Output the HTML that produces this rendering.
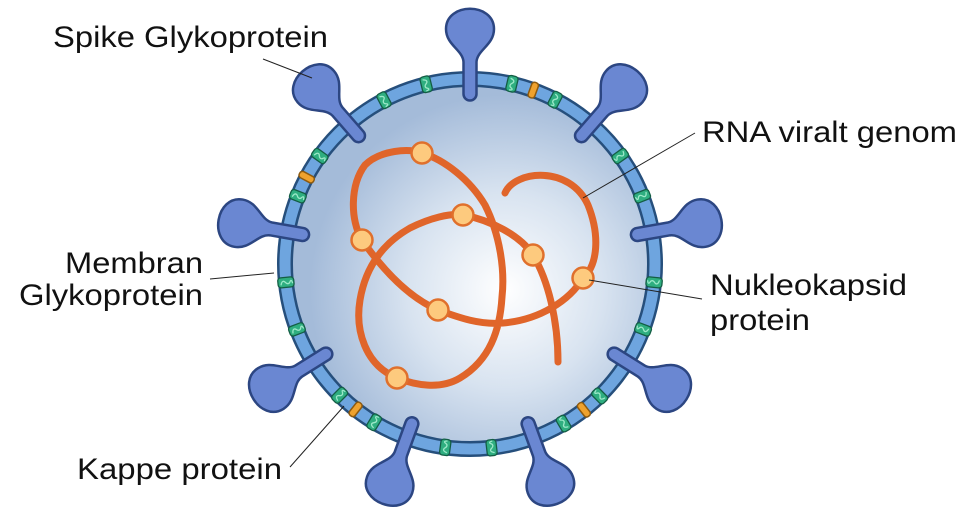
<!DOCTYPE html>
<html><head><meta charset="utf-8"><style>
html,body{margin:0;padding:0;background:#fff;}
svg{display:block;}
text{font-family:"Liberation Sans",Arial,sans-serif;fill:#111;font-size:30px;}
</style></head><body>
<svg width="967" height="516" viewBox="0 0 967 516" xmlns="http://www.w3.org/2000/svg">
<defs>
<radialGradient id="g" cx="35" cy="26" r="195" gradientUnits="userSpaceOnUse">
<stop offset="0" stop-color="#ffffff"/><stop offset="0.5" stop-color="#d8e3f0"/><stop offset="1" stop-color="#a4bbd9"/>
</radialGradient>
<g id="sp">
<path d="M-6.5,-170 L-6.5,-202 C-7,-214 -24,-219 -24,-235 C-24,-262 24,-262 24,-235 C24,-219 7,-214 6.5,-202 L6.5,-170 A6.5,6.5 0 0 1 -6.5,-170 Z" fill="#6a87d2" stroke="#2c4682" stroke-width="2.5" stroke-linejoin="round"/>
</g>
<g id="gr">
<rect x="-5" y="-193" width="10" height="16" rx="3" fill="#2fae80" stroke="#145e45" stroke-width="1.3"/>
<path d="M-2,-190 C2,-189 2,-187 0,-185.5 C-2,-184 -2,-182 0,-181 C2,-180 2,-179 -1,-178.5" fill="none" stroke="#9ce8c8" stroke-width="1.3" stroke-linecap="round"/>
</g>
<g id="or">
<rect x="-3.5" y="-193" width="7" height="16" rx="3" fill="#efa22e" stroke="#8d5a10" stroke-width="1.5"/>
</g>
</defs>
<g transform="translate(470,264)">
<circle r="185" fill="url(#g)"/>
<circle r="185" fill="none" stroke="#264f7c" stroke-width="16"/>
<circle r="185" fill="none" stroke="#6ea5df" stroke-width="11"/>
<use href="#gr" transform="rotate(-13.7)"/>
<use href="#gr" transform="rotate(-27.7)"/>
<use href="#gr" transform="rotate(13.1)"/>
<use href="#gr" transform="rotate(27.4)"/>
<use href="#or" transform="rotate(20)"/>
<use href="#gr" transform="rotate(-54.3)"/>
<use href="#or" transform="rotate(-62)"/>
<use href="#gr" transform="rotate(-68.5)"/>
<use href="#gr" transform="rotate(54.3)"/>
<use href="#gr" transform="rotate(68.5)"/>
<use href="#gr" transform="rotate(-95.7)"/>
<use href="#gr" transform="rotate(-110.7)"/>
<use href="#gr" transform="rotate(95.7)"/>
<use href="#gr" transform="rotate(110.7)"/>
<use href="#gr" transform="rotate(-135.2)"/>
<use href="#or" transform="rotate(-141.8)"/>
<use href="#gr" transform="rotate(-148.8)"/>
<use href="#gr" transform="rotate(-172.3)"/>
<use href="#gr" transform="rotate(173.3)"/>
<use href="#gr" transform="rotate(149.6)"/>
<use href="#or" transform="rotate(142)"/>
<use href="#gr" transform="rotate(135.5)"/>
<use href="#sp" transform="rotate(0)"/>
<use href="#sp" transform="rotate(41)"/>
<use href="#sp" transform="rotate(80)"/>
<use href="#sp" transform="rotate(122)"/>
<use href="#sp" transform="rotate(160)"/>
<use href="#sp" transform="rotate(200)"/>
<use href="#sp" transform="rotate(238)"/>
<use href="#sp" transform="rotate(280)"/>
<use href="#sp" transform="rotate(319)"/>
</g>
<path d="M505,193 C515,170 570,165 588,205 C600,235 598,265 583,278 C570,300 540,320 503,323 C480,325 460,318 438,310 C415,300 390,280 362,240 C350,220 350,185 365,165 C380,150 410,148 422,153 C445,160 470,180 485,205 C500,235 505,270 502,297 C500,330 490,360 460,378 C440,390 415,385 397,378 C365,365 355,330 360,300 C365,270 380,245 410,228 C430,218 450,213 463,215 C490,220 520,235 533,255 C548,280 558,320 558,362" fill="none" stroke="#e0652a" stroke-width="7" stroke-linecap="round" stroke-linejoin="round"/>
<g fill="#fdca7e" stroke="#e0702c" stroke-width="2.5">
<circle cx="422" cy="153" r="10.5"/><circle cx="463" cy="215" r="10.5"/><circle cx="362" cy="240" r="10.5"/><circle cx="533" cy="255" r="10.5"/><circle cx="583" cy="278" r="10.5"/><circle cx="438" cy="310" r="10.5"/><circle cx="397" cy="378" r="10.5"/>
</g>
<g stroke="#222" stroke-width="1">
<line x1="263" y1="59" x2="312" y2="78"/>
<line x1="210" y1="279" x2="274" y2="273"/>
<line x1="290" y1="467" x2="344" y2="406"/>
<line x1="695" y1="133" x2="583" y2="198"/>
<line x1="589" y1="280" x2="702" y2="299"/>
</g>
<text x="53" y="47" textLength="275" lengthAdjust="spacingAndGlyphs">Spike Glykoprotein</text>
<text x="65" y="273" textLength="138" lengthAdjust="spacingAndGlyphs">Membran</text>
<text x="19" y="305" textLength="184" lengthAdjust="spacingAndGlyphs">Glykoprotein</text>
<text x="77" y="479" textLength="205" lengthAdjust="spacingAndGlyphs">Kappe protein</text>
<text x="702" y="142" textLength="255" lengthAdjust="spacingAndGlyphs">RNA viralt genom</text>
<text x="710" y="295" textLength="197" lengthAdjust="spacingAndGlyphs">Nukleokapsid</text>
<text x="710" y="330" textLength="100" lengthAdjust="spacingAndGlyphs">protein</text>
</svg>
</body></html>
